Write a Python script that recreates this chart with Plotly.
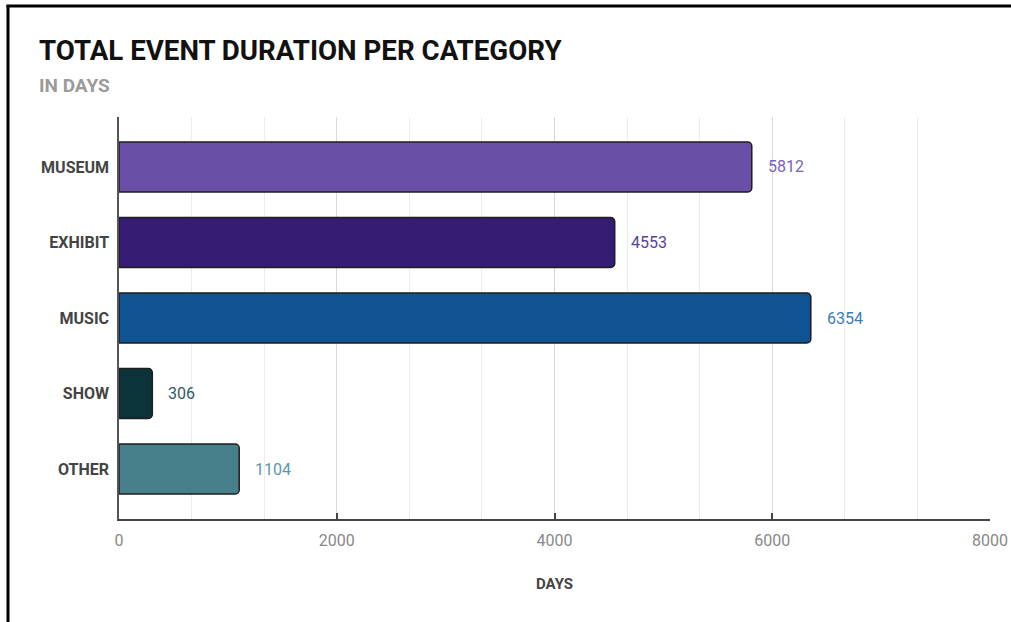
import plotly.graph_objects as go

categories = ["MUSEUM", "EXHIBIT", "MUSIC", "SHOW", "OTHER"]
days = [5812, 4553, 6354, 306, 1104]
bar_colors = ["#6a4fa6", "#341c73", "#0f5392", "#0d333a", "#47808a"]
label_colors = ["#7a62b8", "#5a4298", "#3a7cba", "#2f5a62", "#5a98a4"]
x_ticks = [0, 2000, 4000, 6000, 8000]

W, H = 1011, 622
ml, mr, mt = 119, 21, 117
plot_bottom = 519
mb = H - plot_bottom
pw, ph = W - ml - mr, plot_bottom - mt

def px(x):
    return (x - ml) / pw

def py(y):
    return (plot_bottom - y) / ph

fig = go.Figure()
fig.add_trace(go.Bar(
    y=categories, x=days, orientation="h",
    marker=dict(color=bar_colors, line=dict(color="#1e1e1e", width=1.5), cornerradius=4),
    width=0.66, hoverinfo="x+y",
))

annotations = []
for c, v, col in zip(categories, days, label_colors):
    annotations.append(dict(x=v, y=c, xref="x", yref="y", text=str(v), showarrow=False,
                            xanchor="left", yanchor="middle", xshift=14,
                            font=dict(family="Roboto", size=16, color=col)))

annotations.append(dict(x=px(37), y=py(51), xref="paper", yref="paper", xanchor="left", yanchor="middle",
                        text="<b>TOTAL EVENT DURATION PER CATEGORY</b>", showarrow=False,
                        font=dict(family="Roboto", size=27.7, color="#111111")))
annotations.append(dict(x=px(37), y=py(86), xref="paper", yref="paper", xanchor="left", yanchor="middle",
                        text="<b>IN DAYS</b>", showarrow=False,
                        font=dict(family="Roboto", size=19, color="#9a9a9a")))

shapes = [
    dict(type="line", xref="paper", yref="paper", x0=px(8), x1=px(8), y0=py(5), y1=py(H + 5),
         line=dict(color="#000000", width=3)),
    dict(type="line", xref="paper", yref="paper", x0=px(6.5), x1=px(W + 5), y0=py(6), y1=py(6),
         line=dict(color="#000000", width=3)),
]

fig.update_layout(
    width=W, height=H,
    margin=dict(l=ml, r=mr, t=mt, b=mb, autoexpand=False),
    paper_bgcolor="white", plot_bgcolor="white",
    showlegend=False,
    annotations=annotations, shapes=shapes,
    font=dict(family="Roboto"),
)
fig.update_xaxes(
    range=[0, 8000], tickvals=x_ticks, ticktext=[str(t) for t in x_ticks],
    showgrid=True, gridcolor="#d9d9d9", gridwidth=1,
    minor=dict(dtick=2000 / 3, showgrid=True, gridcolor="#ececec", gridwidth=1, ticks=""),
    showline=True, linecolor="#444444", linewidth=1.5,
    ticks="inside", ticklen=6, tickcolor="#444444", tickwidth=1.5,
    tickfont=dict(family="Roboto", size=16, color="#888888"),
    ticklabelstandoff=6,
    title=dict(text="<b>DAYS</b>", font=dict(family="Roboto", size=15, color="#444444"), standoff=30),
    zeroline=False, fixedrange=True, automargin=False,
)
fig.update_yaxes(
    categoryorder="array", categoryarray=categories, autorange=False, range=[4.662, -0.662],
    showline=True, linecolor="#555555", linewidth=1.5, showgrid=False, ticks="",
    tickfont=dict(family="Roboto", size=16, color="#444444", weight="bold"),
    ticklabelstandoff=5, fixedrange=True, automargin=False,
)

fig.write_html("out.html", config={"displayModeBar": False})
